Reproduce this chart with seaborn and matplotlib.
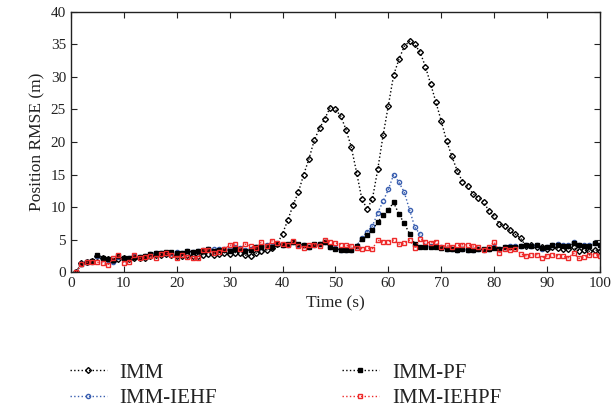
import numpy as np
import pandas as pd
import matplotlib
matplotlib.use('Agg')
import matplotlib.pyplot as plt
import seaborn as sns

time_s = list(range(1, 101))

imm = [0, 1.4, 1.6, 1.7, 2.5, 2.1, 2.0, 1.7, 2.0, 2.1,
       2.0, 2.1, 2.2, 2.2, 2.4, 2.6, 2.6, 2.8, 2.6, 2.5,
       2.4, 2.6, 2.5, 2.5, 2.7, 2.8, 2.6, 2.8, 3.0, 2.8,
       3.0, 2.9, 2.6, 2.5, 2.9, 3.2, 3.4, 3.7, 4.3, 5.9,
       8.0, 10.3, 12.3, 15.0, 17.4, 20.3, 22.1, 23.6, 25.3, 25.0,
       24.0, 21.9, 19.2, 15.3, 11.2, 9.7, 11.3, 15.8, 21.0, 25.6,
       30.3, 32.7, 34.7, 35.5, 35.0, 33.8, 31.6, 28.9, 26.1, 23.2,
       20.2, 17.8, 15.6, 13.9, 13.2, 12.0, 11.4, 10.8, 9.4, 8.6,
       7.4, 7.1, 6.4, 5.8, 5.2, 4.0, 4.1, 3.9, 3.8, 3.6,
       3.8, 3.7, 3.5, 3.6, 3.8, 3.3, 3.4, 3.2, 3.4, 3.3]

imm_pf = [0, 1.3, 1.6, 1.7, 2.6, 2.1, 2.0, 1.8, 2.4, 2.1,
          2.2, 2.3, 2.3, 2.5, 2.8, 2.9, 3.0, 3.1, 3.1, 3.0,
          2.9, 3.2, 3.1, 3.2, 3.3, 3.5, 3.3, 3.4, 3.4, 3.3,
          3.6, 3.6, 3.3, 3.4, 3.8, 3.8, 4.0, 3.9, 4.3, 4.2,
          4.3, 4.6, 4.3, 4.2, 3.9, 4.3, 4.3, 4.6, 3.9, 3.6,
          3.4, 3.4, 3.4, 4.0, 5.1, 5.7, 6.5, 7.7, 8.7, 9.6,
          10.7, 8.9, 7.5, 5.9, 4.3, 3.9, 3.8, 3.8, 3.9, 3.7,
          3.6, 3.5, 3.4, 3.5, 3.4, 3.4, 3.5, 3.5, 3.6, 3.7,
          3.6, 3.8, 3.9, 3.9, 4.0, 4.1, 4.0, 4.1, 3.7, 3.9,
          4.1, 4.2, 4.0, 4.0, 4.5, 4.1, 4.0, 4.0, 4.4, 4.1]

imm_iehf = [0, 1.2, 1.5, 1.6, 2.4, 2.0, 1.9, 1.6, 2.3, 2.0,
            2.1, 2.4, 2.3, 2.5, 2.8, 3.0, 3.0, 3.0, 3.0, 3.1,
            2.9, 3.3, 3.1, 3.3, 3.4, 3.6, 3.5, 3.5, 3.5, 3.5,
            3.8, 3.7, 3.4, 3.5, 3.9, 3.9, 4.1, 4.0, 4.4, 4.2,
            4.2, 4.7, 4.2, 4.2, 3.8, 4.2, 4.3, 4.7, 3.8, 3.7,
            3.4, 3.4, 3.4, 4.0, 5.3, 6.2, 7.1, 9.1, 10.9, 12.7,
            15.0, 13.8, 12.3, 9.6, 6.9, 5.8, 4.0, 4.0, 4.0, 3.8,
            3.6, 3.6, 3.4, 3.5, 3.4, 3.4, 3.5, 3.4, 3.6, 3.8,
            3.6, 3.8, 4.0, 4.0, 4.0, 4.2, 4.0, 4.2, 3.6, 3.8,
            4.2, 4.3, 4.1, 4.1, 4.6, 4.2, 4.1, 4.1, 4.5, 4.2]

imm_iehpf = [0, 1.2, 1.5, 1.6, 1.5, 1.4, 1.1, 2.1, 2.6, 1.4,
             1.5, 2.6, 2.1, 2.3, 2.4, 2.1, 2.8, 2.9, 2.6, 2.2,
             2.7, 2.3, 2.1, 2.1, 3.4, 3.4, 2.9, 3.1, 3.6, 4.1,
             4.3, 3.6, 4.3, 4.0, 3.7, 4.6, 4.0, 4.8, 4.4, 4.3,
             4.2, 4.8, 4.0, 3.7, 4.1, 4.2, 4.0, 5.0, 4.6, 4.5,
             4.2, 4.1, 4.0, 3.7, 3.6, 3.7, 3.6, 4.9, 4.6, 4.7,
             4.9, 4.3, 4.4, 4.9, 3.7, 5.1, 4.6, 4.5, 4.7, 3.9,
             4.1, 3.9, 4.1, 4.2, 4.2, 4.0, 3.9, 3.4, 3.9, 4.6,
             3.0, 3.5, 3.4, 3.6, 2.8, 2.5, 2.6, 2.7, 2.2, 2.5,
             2.7, 2.5, 2.4, 2.2, 2.9, 2.1, 2.3, 2.6, 2.7, 2.5]

series = [
    ('IMM', imm, 'black', 'D', 'none'),
    ('IMM-IEHF', imm_iehf, '#3a5fb0', 'o', 'none'),
    ('IMM-PF', imm_pf, 'black', 's', 'black'),
    ('IMM-IEHPF', imm_iehpf, '#ee2a2a', 's', 'none'),
]

sns.set_style('ticks')
plt.rcParams['font.family'] = ['Liberation Serif', 'DejaVu Serif']
plt.rcParams['xtick.direction'] = 'in'
plt.rcParams['ytick.direction'] = 'in'

fig = plt.figure(figsize=(6.11, 4.11), dpi=100)
ax = fig.add_axes([0.116, 0.338, 0.866, 0.633])

for name, vals, col, mk, fc in series:
    df = pd.DataFrame({'t': time_s, 'rmse': vals})
    sns.lineplot(data=df, x='t', y='rmse', ax=ax, color=col, linestyle=':',
                 linewidth=1.0, marker=mk, markersize=3.0 if mk != 's' else 2.8,
                 markerfacecolor=fc, markeredgecolor=col, markeredgewidth=1.0,
                 label=name)

ax.set_xlim(0, 100)
ax.set_ylim(0, 40)
ax.set_xticks(range(0, 101, 10))
ax.set_yticks(range(0, 41, 5))
ax.tick_params(top=True, right=True, labelsize=11, length=4, width=0.8, colors='#222222')
for s in ax.spines.values():
    s.set_linewidth(1.0)
    s.set_color('#222222')
ax.set_xlabel('Time (s)', fontsize=12.5, color='#222222')
ax.set_ylabel('Position RMSE (m)', fontsize=12.5, color='#222222')

ax.legend_.remove()
handles, labels = ax.get_legend_handles_labels()
fig.legend(handles, labels, ncol=2, loc='upper left', bbox_to_anchor=(0.101, 0.137),
           frameon=False, fontsize=15, handlelength=1.75, handletextpad=0.63,
           columnspacing=6.0, labelspacing=0.3, borderaxespad=0,
           labelcolor='#222222')

fig.savefig('out.png', dpi=100)
